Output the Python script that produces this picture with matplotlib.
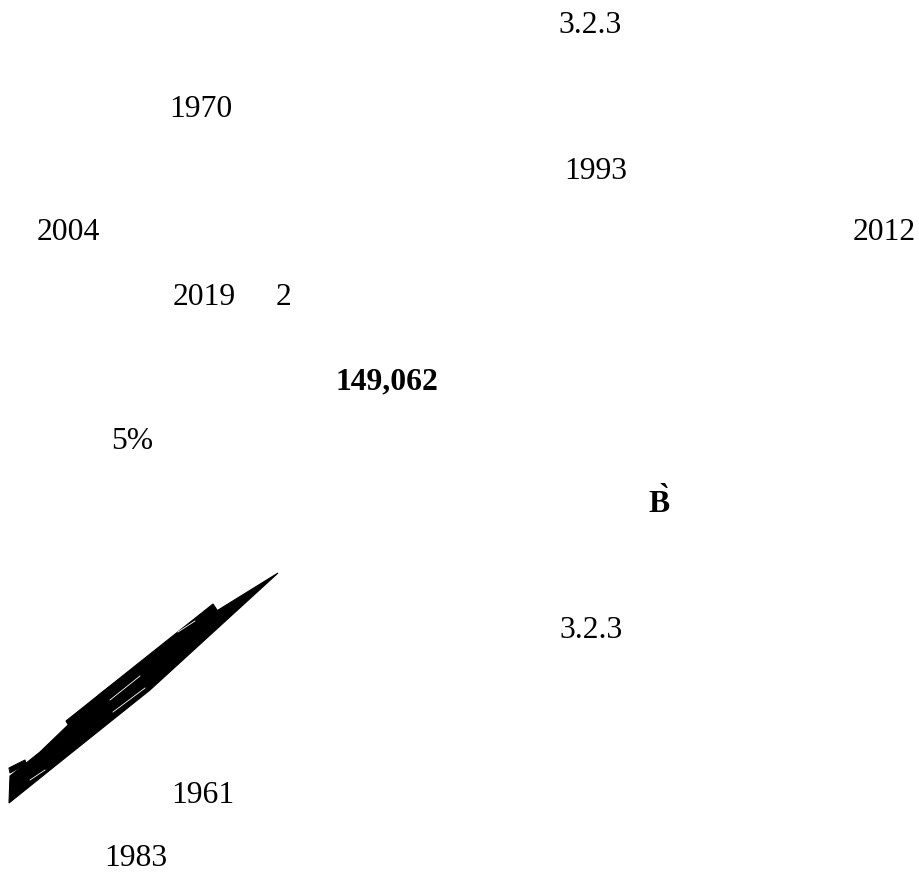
import matplotlib
matplotlib.use("Agg")
import matplotlib.pyplot as plt
from matplotlib.patches import Polygon

# ---- content (text fragments of the page) ----
labels = ["3.2.3", "1970", "1993", "2004", "2012", "2019", "2",
          "149,062", "5%", "B\u0300", "3.2.3", "1961", "1983"]
bold = [False, False, False, False, False, False, False,
        True, False, True, False, False, False]

# ---- layout (pixel positions: left x, baseline y) ----
xs = [558, 169, 564, 37, 853, 173, 276, 336, 111, 648, 559, 171, 104]
ys = [33, 117, 179, 240, 240, 305, 305, 389, 449, 512, 638, 803, 866]

W, H = 920, 876
fig = plt.figure(figsize=(W / 100, H / 100), dpi=100)
ax = fig.add_axes([0, 0, 1, 1])
ax.set_xlim(0, W)
ax.set_ylim(H, 0)
ax.axis("off")

for t, b, x, y in zip(labels, bold, xs, ys):
    ax.text(x, y, t, fontsize=22.8, family=["Liberation Serif", "DejaVu Serif"],
            fontweight="bold" if b else "normal", ha="left", va="baseline",
            color="black")

# ---- scribble shape (decorative glyph debris) ----
band = [(9, 803), (10, 776), (40, 752), (67, 726), (100, 694), (140, 664),
        (173, 638), (278, 573), (185, 658), (150, 690), (110, 722),
        (60, 762)]
branch = [(66, 721), (140, 662), (213, 604), (217, 610), (145, 668), (69, 726)]
jag1 = [(9, 768), (25, 760), (26, 764), (10, 773)]
jag2 = [(10, 782), (30, 770), (31, 774), (11, 787)]
for poly in (band, branch, jag1, jag2):
    ax.add_patch(Polygon(poly, closed=True, facecolor="black",
                         edgecolor="black", linewidth=0.8))
# thin white streaks inside the band
for (x0, y0, x1, y1) in [(110, 700, 140, 676), (113, 712, 145, 688),
                         (30, 780, 45, 770), (178, 632, 195, 621)]:
    ax.plot([x0, x1], [y0, y1], color="white", linewidth=0.6)

fig.savefig("out.png", dpi=100, facecolor="white")
